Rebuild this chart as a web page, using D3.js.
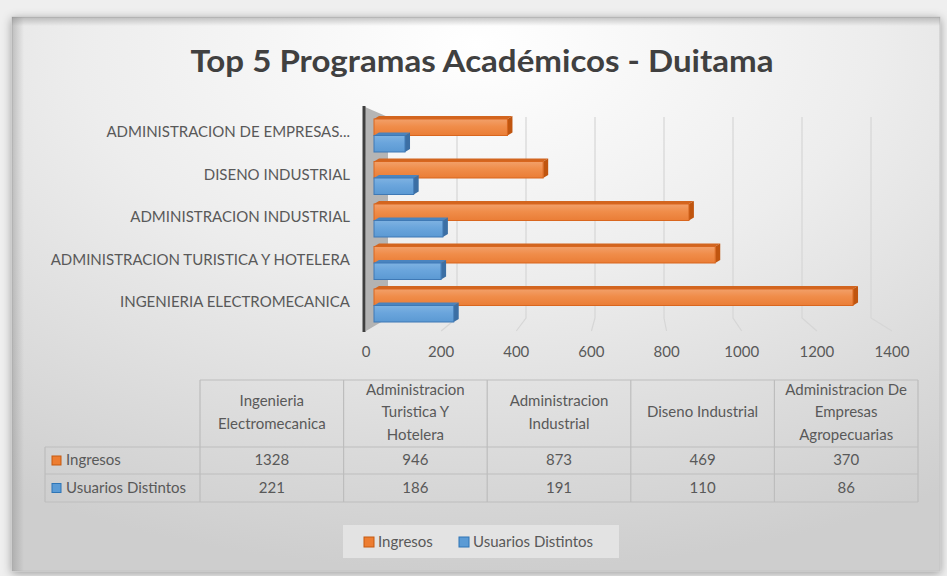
<!DOCTYPE html>
<html>
<head>
<meta charset="utf-8">
<script src="https://cdn.jsdelivr.net/npm/d3@7"></script>
<style>
  html, body { margin: 0; padding: 0; background: #efefef; }
  svg { display: block; }
  text { font-family: Lato, "Open Sans", sans-serif; fill: #595959; }
</style>
</head>
<body>
<svg id="chart" width="947" height="576"></svg>
<script>
// data
var categories = ["Ingenieria Electromecanica", "Administracion Turistica Y Hotelera", "Administracion Industrial", "Diseno Industrial", "Administracion De Empresas Agropecuarias"];
var axisLabels = ["INGENIERIA ELECTROMECANICA", "ADMINISTRACION TURISTICA Y HOTELERA", "ADMINISTRACION INDUSTRIAL", "DISENO INDUSTRIAL", "ADMINISTRACION DE EMPRESAS..."];
var headerLines = [["Ingenieria", "Electromecanica"], ["Administracion", "Turistica Y", "Hotelera"], ["Administracion", "Industrial"], ["Diseno Industrial"], ["Administracion De", "Empresas", "Agropecuarias"]];
var ingresos = [1328, 946, 873, 469, 370];
var usuarios = [221, 186, 191, 110, 86];
var seriesNames = ["Ingresos", "Usuarios Distintos"];
var xTicks = [0, 200, 400, 600, 800, 1000, 1200, 1400];

var svg = d3.select("#chart");
var defs = svg.append("defs");

// panel background
var rg = defs.append("radialGradient").attr("id", "panelBg")
	.attr("cx", "50%").attr("cy", "5%").attr("r", "95%")
	.attr("fx", "50%").attr("fy", "5%");
rg.append("stop").attr("offset", "0%").attr("stop-color", "#ffffff");
rg.append("stop").attr("offset", "45%").attr("stop-color", "#ededed");
rg.append("stop").attr("offset", "100%").attr("stop-color", "#cecece");

var sh = defs.append("filter").attr("id", "shadow")
	.attr("x", "-5%").attr("y", "-5%").attr("width", "110%").attr("height", "110%");
sh.append("feDropShadow").attr("dx", 0).attr("dy", 2).attr("stdDeviation", 5)
	.attr("flood-color", "#000").attr("flood-opacity", 0.35);

function vgrad(id, c1, c2, c3) {
	var g = defs.append("linearGradient").attr("id", id)
		.attr("x1", 0).attr("y1", 0).attr("x2", 0).attr("y2", 1);
	g.append("stop").attr("offset", "0%").attr("stop-color", c1);
	g.append("stop").attr("offset", "45%").attr("stop-color", c2);
	g.append("stop").attr("offset", "100%").attr("stop-color", c3);
}
vgrad("orangeFront", "#f2a06a", "#f08d4a", "#ea7d36");
vgrad("blueFront", "#7eb2e2", "#6aa5dc", "#5b99d3");

// soft inner shade along the top and left edges
var topShade = defs.append("linearGradient").attr("id", "topShade")
	.attr("x1", 0).attr("y1", 0).attr("x2", 0).attr("y2", 1);
topShade.append("stop").attr("offset", "0%").attr("stop-color", "#808080").attr("stop-opacity", 0.45);
topShade.append("stop").attr("offset", "100%").attr("stop-color", "#808080").attr("stop-opacity", 0);
var leftShade = defs.append("linearGradient").attr("id", "leftShade")
	.attr("x1", 0).attr("y1", 0).attr("x2", 1).attr("y2", 0);
leftShade.append("stop").attr("offset", "0%").attr("stop-color", "#808080").attr("stop-opacity", 0.4);
leftShade.append("stop").attr("offset", "100%").attr("stop-color", "#808080").attr("stop-opacity", 0);

svg.append("rect")
	.attr("x", 12).attr("y", 17).attr("width", 928).attr("height", 554)
	.attr("fill", "url(#panelBg)")
	.attr("stroke", "#c4c4c4")
	.attr("filter", "url(#shadow)");
svg.append("rect")
	.attr("x", 12).attr("y", 17).attr("width", 928).attr("height", 9)
	.attr("fill", "url(#topShade)");
svg.append("rect")
	.attr("x", 12).attr("y", 17).attr("width", 12).attr("height", 554)
	.attr("fill", "url(#leftShade)");

// title
svg.append("text")
	.attr("x", 482).attr("y", 72)
	.attr("text-anchor", "middle")
	.style("font-size", "30px")
	.style("font-weight", "bold")
	.style("fill", "#404040")
	.attr("textLength", 583)
	.attr("lengthAdjust", "spacingAndGlyphs")
	.text("Top 5 Programas Académicos - Duitama");

// scales
var x = d3.scaleLinear().domain([0, 1400]).range([374, 879]);       // bar fronts
var xWall = d3.scaleLinear().domain([0, 1400]).range([388, 871]);   // back wall
var xTick = d3.scaleLinear().domain([0, 1400]).range([366, 892]);   // floor front
var y = d3.scaleBand().domain(categories.slice().reverse()).range([110, 322.5]);
var ySub = d3.scaleBand().domain(seriesNames).range([9, 42]);

var wallTop = 117, wallBottom = 318, floorFront = 331;
var dx = 5, dy = -3;

// gridlines on the back wall and floor
svg.append("g").selectAll("polyline")
	.data(xTicks.slice(1))
	.join("polyline")
	.attr("points", function(d) {
		return [[xWall(d), wallTop], [xWall(d), wallBottom], [xTick(d), floorFront]].join(" ");
	})
	.attr("fill", "none")
	.attr("stroke", "#d6d6d6")
	.attr("stroke-width", 1.2);

// side wall
svg.append("polygon")
	.attr("points", [[365, 107], [388, wallTop], [388, wallBottom], [366, floorFront]].join(" "))
	.attr("fill", "#a9a9a9")
	.attr("opacity", 0.85);
svg.append("line")
	.attr("x1", 364).attr("x2", 364).attr("y1", 106).attr("y2", 332)
	.attr("stroke", "#3f3f3f").attr("stroke-width", 3);

// 3D bars
function drawBars(values, name, front, top, side, edge) {
	var g = svg.append("g");
	var rows = categories.map(function(c, i) { return { cat: c, v: values[i] }; });
	var bar = g.selectAll("g").data(rows).join("g");
	function x0() { return x(0); }
	function yt(d) { return y(d.cat) + ySub(name); }
	var h = ySub.bandwidth();
	bar.append("polygon")
		.attr("points", function(d) {
			var a = x0(), b = x(d.v), t = yt(d);
			return [[a, t], [a + dx, t + dy], [b + dx, t + dy], [b, t]].join(" ");
		})
		.attr("fill", top);
	bar.append("polygon")
		.attr("points", function(d) {
			var b = x(d.v), t = yt(d);
			return [[b, t], [b + dx, t + dy], [b + dx, t + h + dy], [b, t + h]].join(" ");
		})
		.attr("fill", side);
	bar.append("rect")
		.attr("x", x0())
		.attr("y", yt)
		.attr("width", function(d) { return x(d.v) - x0(); })
		.attr("height", h)
		.attr("fill", front)
		.attr("stroke", edge)
		.attr("stroke-width", 1);
}
drawBars(ingresos, "Ingresos", "url(#orangeFront)", "#d2651f", "#c0550f", "#d9661e");
drawBars(usuarios, "Usuarios Distintos", "url(#blueFront)", "#4a84bf", "#3c6fa4", "#3f79b5");

// category labels
svg.append("g").selectAll("text")
	.data(categories)
	.join("text")
	.attr("x", 350)
	.attr("y", function(d) { return y(d) + y.bandwidth() / 2 + 2; })
	.attr("text-anchor", "end")
	.attr("dominant-baseline", "middle")
	.style("font-size", "15px")
	.text(function(d, i) { return axisLabels[i]; });

// value axis labels
svg.append("g").selectAll("text")
	.data(xTicks)
	.join("text")
	.attr("x", function(d) { return xTick(d); })
	.attr("y", 353)
	.attr("text-anchor", "middle")
	.attr("dominant-baseline", "middle")
	.style("font-size", "15px")
	.text(function(d) { return d; });

// data table
var col = d3.scaleBand().domain(categories).range([200, 918]);
var tHead = 380, tRow1 = 447, tRow2 = 474, tEnd = 502, tLeft = 45;
var tbl = svg.append("g").attr("stroke", "#bdbdbd").attr("stroke-width", 1.2);
tbl.append("line").attr("x1", 200).attr("x2", 918).attr("y1", tHead).attr("y2", tHead);
[tRow1, tRow2, tEnd].forEach(function(yy) {
	tbl.append("line").attr("x1", tLeft).attr("x2", 918).attr("y1", yy).attr("y2", yy);
});
tbl.append("line").attr("x1", tLeft).attr("x2", tLeft).attr("y1", tRow1).attr("y2", tEnd);
categories.forEach(function(c) {
	tbl.append("line").attr("x1", col(c)).attr("x2", col(c)).attr("y1", tHead).attr("y2", tEnd);
});
tbl.append("line").attr("x1", 918).attr("x2", 918).attr("y1", tHead).attr("y2", tEnd);

var head = svg.append("g").selectAll("text")
	.data(categories)
	.join("text")
	.attr("text-anchor", "middle")
	.style("font-size", "15px");
head.each(function(c, i) {
	var lines = headerLines[i];
	var mid = (tHead + tRow1) / 2;
	var lh = 22.5;
	d3.select(this).selectAll("tspan")
		.data(lines)
		.join("tspan")
		.attr("x", col(c) + col.bandwidth() / 2)
		.attr("y", function(l, j) { return mid + (j - (lines.length - 1) / 2) * lh; })
		.attr("dominant-baseline", "middle")
		.text(function(l) { return l; });
});

var rowsData = [ingresos, usuarios];
var rowY = [(tRow1 + tRow2) / 2, (tRow2 + tEnd) / 2];
rowsData.forEach(function(vals, r) {
	svg.append("g").selectAll("text")
		.data(vals)
		.join("text")
		.attr("x", function(d, i) { return col(categories[i]) + col.bandwidth() / 2; })
		.attr("y", rowY[r] + 1)
		.attr("text-anchor", "middle")
		.attr("dominant-baseline", "middle")
		.style("font-size", "15px")
		.text(function(d) { return d; });
});

var keyFill = ["#ed7d31", "#5b9bd5"];
var keyStroke = ["#c55a11", "#2e75b6"];
seriesNames.forEach(function(s, r) {
	svg.append("rect")
		.attr("x", 52).attr("y", rowY[r] - 4.5)
		.attr("width", 9).attr("height", 9)
		.attr("fill", keyFill[r]).attr("stroke", keyStroke[r]);
	svg.append("text")
		.attr("x", 66).attr("y", rowY[r] + 1)
		.attr("dominant-baseline", "middle")
		.style("font-size", "15px")
		.text(s);
});

// legend
svg.append("rect")
	.attr("x", 343).attr("y", 525).attr("width", 276).attr("height", 33)
	.attr("fill", "#e3e3e3");
var legX = [364, 459];
seriesNames.forEach(function(s, r) {
	svg.append("rect")
		.attr("x", legX[r]).attr("y", 537)
		.attr("width", 10).attr("height", 10)
		.attr("fill", keyFill[r]).attr("stroke", keyStroke[r]);
	svg.append("text")
		.attr("x", legX[r] + 14).attr("y", 543)
		.attr("dominant-baseline", "middle")
		.style("font-size", "15px")
		.text(s);
});
</script>
</body>
</html>
